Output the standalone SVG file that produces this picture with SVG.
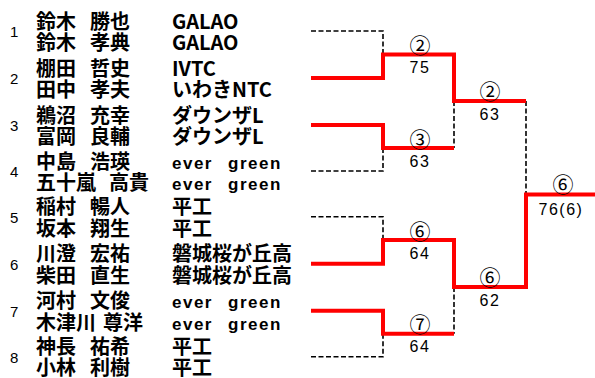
<svg xmlns="http://www.w3.org/2000/svg" width="595" height="378" viewBox="0 0 595 378">
<style>
.num{font-family:"Liberation Sans",Arial,sans-serif;font-size:15px;fill:#000}
.nm{font-family:"Noto Sans CJK JP","Noto Sans",sans-serif;font-size:20px;font-weight:bold;fill:#000}
.eg{font-family:"Liberation Sans",Arial,sans-serif;font-size:17px;letter-spacing:1.5px}
.cir{font-family:"Noto Sans CJK JP","Noto Sans",sans-serif;font-size:21px;fill:#000;text-anchor:middle;dominant-baseline:central}
.sc{font-family:"Liberation Sans",Arial,sans-serif;font-size:16px;fill:#000;text-anchor:middle;letter-spacing:1.5px}
.win{fill:none;stroke:#FF0000;stroke-width:4;stroke-linejoin:miter;stroke-linecap:butt}
.lose{fill:none;stroke:#000;stroke-width:1.6;stroke-dasharray:5,2.5}
</style>
<rect width="595" height="378" fill="#fff"/>
<g id="connectors">
<path class="lose" d="M311,31 H383 V54.5"/>
<path class="lose" d="M311,171 H383 V148"/>
<path class="lose" d="M454,101 V148"/>
<path class="lose" d="M311,216.7 H383 V240"/>
<path class="lose" d="M311,356.7 H383 V333.7"/>
<path class="lose" d="M454,287 V333.7"/>
<path class="lose" d="M526,101 V194.5"/>
<path class="win" d="M311,78 H383 V54.5 H454 V101 H526"/>
<path class="win" d="M311,125 H383 V148 H454"/>
<path class="win" d="M311,263.7 H383 V240 H454 V287 H526 V194.5 H595"/>
<path class="win" d="M311,310.7 H383 V333.7 H454"/>
</g>
<g id="pair1">
<text class="num" x="10" y="37">1</text>
<text class="nm" y="28.5"><tspan x="36">鈴木</tspan><tspan x="90">勝也</tspan><tspan x="172">GALAO</tspan></text>
<text class="nm" y="50"><tspan x="36">鈴木</tspan><tspan x="90">孝典</tspan><tspan x="172">GALAO</tspan></text>
</g>
<g id="pair2">
<text class="num" x="10" y="84">2</text>
<text class="nm" y="75.5"><tspan x="36">棚田</tspan><tspan x="90">哲史</tspan><tspan x="172">IVTC</tspan></text>
<text class="nm" y="97"><tspan x="36">田中</tspan><tspan x="90">孝夫</tspan><tspan x="172">いわきNTC</tspan></text>
</g>
<g id="pair3">
<text class="num" x="10" y="131">3</text>
<text class="nm" y="122.5"><tspan x="36">鵜沼</tspan><tspan x="90">充幸</tspan><tspan x="172">ダウンザL</tspan></text>
<text class="nm" y="144"><tspan x="36">富岡</tspan><tspan x="90">良輔</tspan><tspan x="172">ダウンザL</tspan></text>
</g>
<g id="pair4">
<text class="num" x="10" y="177">4</text>
<text class="nm" y="168.5"><tspan x="36">中島</tspan><tspan x="90">浩瑛</tspan><tspan class="eg" x="172">ever</tspan><tspan class="eg" x="228">green</tspan></text>
<text class="nm" y="190"><tspan x="36">五十嵐</tspan><tspan x="109">高貴</tspan><tspan class="eg" x="172">ever</tspan><tspan class="eg" x="228">green</tspan></text>
</g>
<g id="pair5">
<text class="num" x="10" y="222.7">5</text>
<text class="nm" y="214.2"><tspan x="36">稲村</tspan><tspan x="90">暢人</tspan><tspan x="172">平工</tspan></text>
<text class="nm" y="235.7"><tspan x="36">坂本</tspan><tspan x="90">翔生</tspan><tspan x="172">平工</tspan></text>
</g>
<g id="pair6">
<text class="num" x="10" y="269.7">6</text>
<text class="nm" y="261.2"><tspan x="36">川澄</tspan><tspan x="90">宏祐</tspan><tspan x="172">磐城桜が丘高</tspan></text>
<text class="nm" y="282.7"><tspan x="36">柴田</tspan><tspan x="90">直生</tspan><tspan x="172">磐城桜が丘高</tspan></text>
</g>
<g id="pair7">
<text class="num" x="10" y="316.7">7</text>
<text class="nm" y="308.2"><tspan x="36">河村</tspan><tspan x="90">文俊</tspan><tspan class="eg" x="172">ever</tspan><tspan class="eg" x="228">green</tspan></text>
<text class="nm" y="329.7"><tspan x="36">木津川</tspan><tspan x="103">尊洋</tspan><tspan class="eg" x="172">ever</tspan><tspan class="eg" x="228">green</tspan></text>
</g>
<g id="pair8">
<text class="num" x="10" y="362.7">8</text>
<text class="nm" y="354.2"><tspan x="36">神長</tspan><tspan x="90">祐希</tspan><tspan x="172">平工</tspan></text>
<text class="nm" y="375"><tspan x="36">小林</tspan><tspan x="90">利樹</tspan><tspan x="172">平工</tspan></text>
</g>
<g id="match1">
<text class="cir" x="420" y="44">②</text>
<text class="sc" x="420" y="73.3">75</text>
</g>
<g id="match2">
<text class="cir" x="420" y="137.5">③</text>
<text class="sc" x="420" y="166.7">63</text>
</g>
<g id="match3">
<text class="cir" x="420" y="229.5">⑥</text>
<text class="sc" x="420" y="258.5">64</text>
</g>
<g id="match4">
<text class="cir" x="420" y="323">⑦</text>
<text class="sc" x="420" y="352">64</text>
</g>
<g id="semi1">
<text class="cir" x="490" y="90.3">②</text>
<text class="sc" x="490" y="120">63</text>
</g>
<g id="semi2">
<text class="cir" x="490" y="276.3">⑥</text>
<text class="sc" x="490" y="306">62</text>
</g>
<g id="final">
<text class="cir" x="563" y="183">⑥</text>
<text class="sc" x="561" y="215">76(6)</text>
</g>
</svg>
